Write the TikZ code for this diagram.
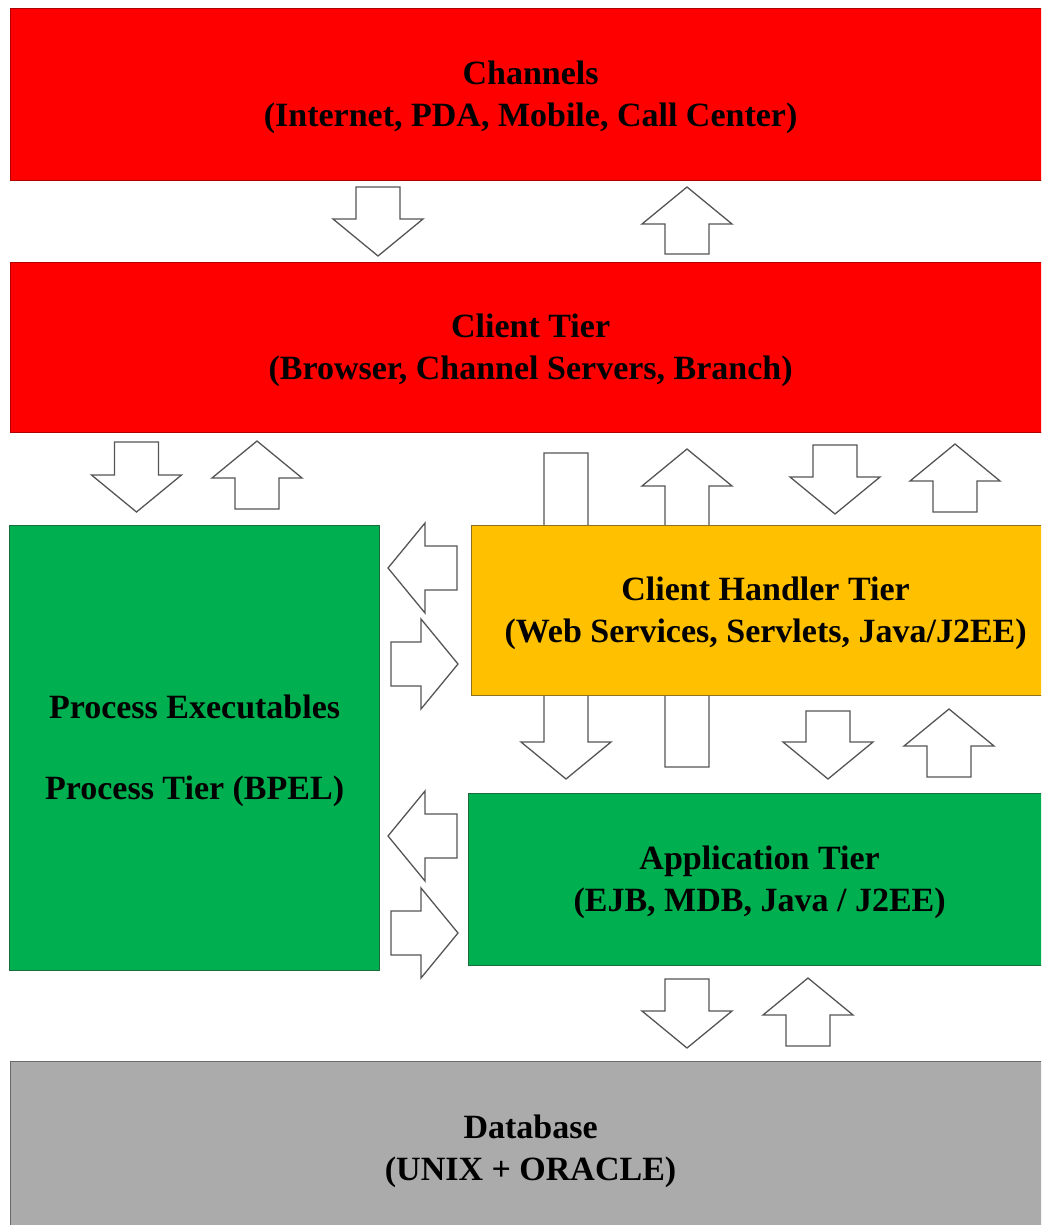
\documentclass[tikz,border=0pt]{standalone}
\usepackage{fontspec}
\setmainfont{Liberation Serif}
\definecolor{chanred}{HTML}{FF0000}
\definecolor{chanredline}{HTML}{B00000}
\definecolor{tiergreen}{HTML}{00B050}
\definecolor{tiergreenline}{HTML}{1D6B3C}
\definecolor{handleryellow}{HTML}{FFC000}
\definecolor{handleryellowline}{HTML}{8F7020}
\definecolor{dbgray}{HTML}{ABABAB}
\definecolor{dbgrayline}{HTML}{6A6A6A}
\definecolor{arrowline}{HTML}{555555}
\begin{document}
\begin{tikzpicture}[x=1pt,y=-1pt,
  tier/.style={draw, line width=1.2pt, inner sep=0pt, anchor=north west},
  tiertext/.style={label={[align=center, inner sep=0pt, yshift=-3pt,
    font=\fontsize{34}{42}\selectfont\bfseries]center:{#1}}},
  blockarrow/.style={draw=arrowline, fill=white, line width=1.3pt, line join=miter},
  % block arrows: shaft half width 22, head half width 45, head length 37
  pics/arrdown/.style={code={\draw[blockarrow] (-22,0) -- (22,0) -- (22,#1-37)
      -- (45,#1-37) -- (0,#1) -- (-45,#1-37) -- (-22,#1-37) -- cycle;}},
  pics/arrup/.style={code={\draw[blockarrow] (0,0) -- (45,37) -- (22,37)
      -- (22,#1) -- (-22,#1) -- (-22,37) -- (-45,37) -- cycle;}},
  pics/arrleft/.style={code={\draw[blockarrow] (0,0) -- (37,-45) -- (37,-22)
      -- (#1,-22) -- (#1,22) -- (37,22) -- (37,45) -- cycle;}},
  pics/arrright/.style={code={\draw[blockarrow] (0,0) -- (-37,-45) -- (-37,-22)
      -- (-#1,-22) -- (-#1,22) -- (-37,22) -- (-37,45) -- cycle;}},
]
\useasboundingbox (0,0) rectangle (1041,1225);
\clip (0,0) rectangle (1041,1225);

% long arrows between client tier and application tier, passing behind the handler
\pic at (566,453) {arrdown=326};
\pic at (687,449) {arrup=318};

% tiers
\node[tier, fill=chanred, draw=chanredline, minimum width=1040pt, minimum height=172pt,
  tiertext={Channels\\(Internet, PDA, Mobile, Call Center)}] (chan) at (10,8) {};
\node[tier, fill=chanred, draw=chanredline, minimum width=1040pt, minimum height=170pt,
  tiertext={Client Tier\\(Browser, Channel Servers, Branch)}] (client) at (10,262) {};
\node[tier, fill=tiergreen, draw=tiergreenline, minimum width=370pt, minimum height=445pt,
  tiertext={Process Executables\\[39pt]Process Tier (BPEL)}] (proc) at (9,525) {};
\node[tier, fill=handleryellow, draw=handleryellowline, minimum width=588pt, minimum height=170pt,
  tiertext={Client Handler Tier\\(Web Services, Servlets, Java/J2EE)}] (handler) at (471,525) {};
\node[tier, fill=tiergreen, draw=tiergreenline, minimum width=582pt, minimum height=172pt,
  tiertext={Application Tier\\(EJB, MDB, Java / J2EE)}] (app) at (468,793) {};
\node[tier, fill=dbgray, draw=dbgrayline, minimum width=1040pt, minimum height=174pt,
  tiertext={Database\\(UNIX + ORACLE)}] (db) at (10,1061) {};

% channels <-> client tier
\pic at (378,187) {arrdown=69};
\pic at (687,187) {arrup=67};

% client tier <-> process tier
\pic at (136.5,442) {arrdown=70};
\pic at (257,441) {arrup=68};

% client tier <-> client handler tier
\pic at (835,445) {arrdown=69};
\pic at (955,444) {arrup=68};

% client handler tier <-> application tier
\pic at (828,711) {arrdown=68};
\pic at (949,709) {arrup=68};

% process tier <-> client handler tier
\pic at (388,568) {arrleft=69};
\pic at (458,664) {arrright=67};

% process tier <-> application tier
\pic at (388,836) {arrleft=69};
\pic at (458,933) {arrright=67};

% application tier <-> database
\pic at (687,979) {arrdown=69};
\pic at (808,978) {arrup=68};
\end{tikzpicture}
\end{document}
